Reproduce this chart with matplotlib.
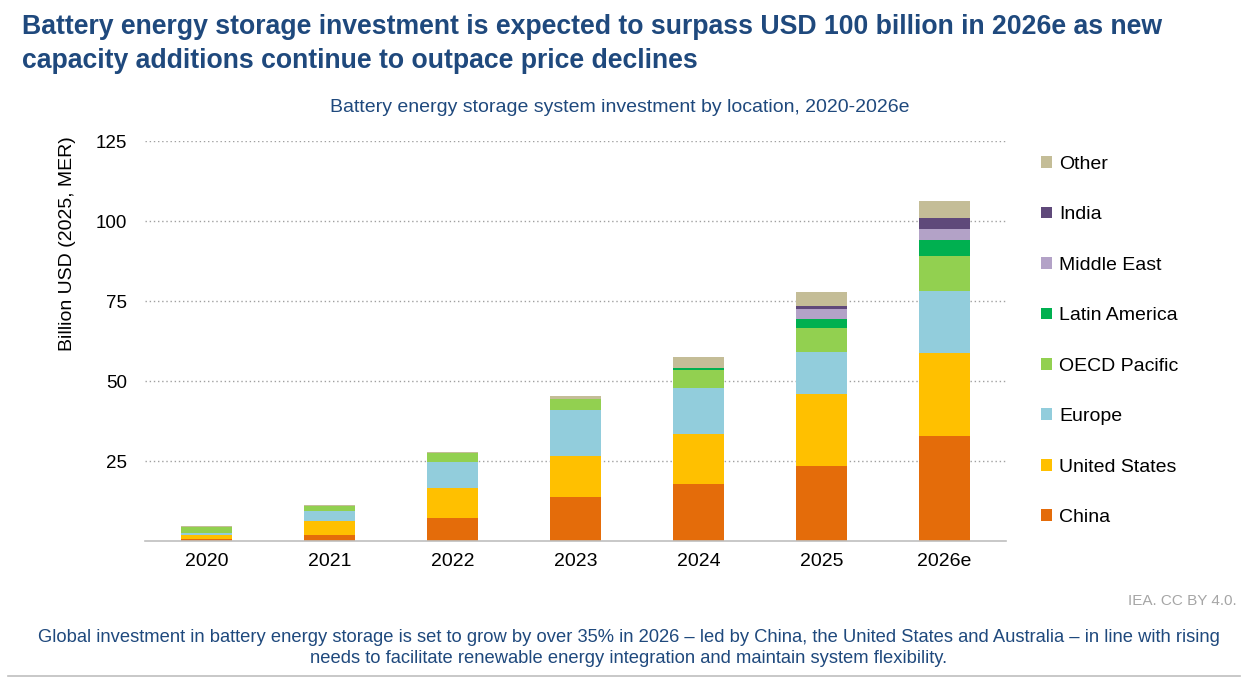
import matplotlib
matplotlib.use("Agg")
import matplotlib.pyplot as plt
from matplotlib.patches import Patch
from matplotlib.lines import Line2D
import numpy as np

plt.rcParams['font.family'] = ['Liberation Sans', 'DejaVu Sans']

years = ["2020", "2021", "2022", "2023", "2024", "2025", "2026e"]
regions = ["China", "United States", "Europe", "OECD Pacific", "Latin America",
           "Middle East", "India", "Other"]
china = [0.7, 2.0, 7.3, 13.9, 17.9, 23.4, 32.8]
united_states = [1.1, 4.3, 9.4, 12.7, 15.6, 22.4, 26.1]
europe = [0.6, 3.1, 8.0, 14.4, 14.2, 13.4, 19.1]
oecd_pacific = [2.1, 1.6, 2.8, 3.3, 5.8, 7.4, 11.0]
latin_america = [0.0, 0.0, 0.0, 0.1, 0.7, 2.7, 5.0]
middle_east = [0.0, 0.0, 0.0, 0.0, 0.0, 3.3, 3.5]
india = [0.0, 0.0, 0.0, 0.0, 0.0, 0.8, 3.4]
other = [0.2, 0.3, 0.3, 0.8, 3.2, 4.4, 5.2]
series = [china, united_states, europe, oecd_pacific, latin_america,
          middle_east, india, other]
colors = ["#E46C0A", "#FFC000", "#92CDDC", "#92D050", "#00B050",
          "#B3A2C7", "#5F497A", "#C4BD97"]

title_color = "#1F497D"

fig = plt.figure(figsize=(12.44, 6.8), dpi=100)
ax = fig.add_axes([145/1244, 1-541/680, 861/1244, 400/680])

x = np.arange(len(years))
bottom = np.zeros(len(years))
for vals, col, name in zip(series, colors, regions):
    v = np.array(vals)
    ax.bar(x, v, width=0.41, bottom=bottom, color=col, label=name, zorder=3,
           linewidth=0)
    bottom += v

ax.set_xlim(-0.5, len(years) - 0.5)
ax.set_ylim(0, 125)
ax.set_yticks([25, 50, 75, 100, 125])
ax.set_xticks(x)
ax.set_xticklabels(years)
ax.tick_params(axis='both', length=0, labelsize=14, colors='black')
ax.tick_params(axis='y', pad=13, labelsize=13.5)
ax.tick_params(axis='x', pad=9)
for s in ["top", "right", "left"]:
    ax.spines[s].set_visible(False)
ax.spines["bottom"].set_color("#BFBFBF")
ax.spines["bottom"].set_linewidth(1.2)
ax.spines["bottom"].set_zorder(4)
ax.yaxis.grid(True, linestyle=(0, (1, 2)), color="#A0A0A0", linewidth=1.0, zorder=0)
ax.set_axisbelow(True)

fig.text(67/1244, 1-244/680, "Billion USD (2025, MER)", rotation=90,
         ha='center', va='center', fontsize=14, color='black')

handles = [Patch(facecolor=c, edgecolor='none') for c in colors][::-1]
labels = regions[::-1]
leg = fig.legend(handles, labels, loc='upper left',
                 bbox_to_anchor=(1041/1244, 1-156/680), frameon=False,
                 fontsize=14, handlelength=0.55, handleheight=0.55,
                 handletextpad=0.4, labelspacing=1.72, borderaxespad=0,
                 borderpad=0)

fig.text(22/1244, 1-44/680,
         "Battery energy storage investment is expected to surpass USD 100 billion in 2026e as new\n"
         "capacity additions continue to outpace price declines",
         ha='left', va='center', fontsize=19.2, fontweight='bold', color=title_color,
         linespacing=1.36)

fig.text(620/1244, 1-108/680,
         "Battery energy storage system investment by location, 2020-2026e",
         ha='center', va='center', fontsize=14, color=title_color)

fig.text(1237/1244, 1-601/680, "IEA. CC BY 4.0.", ha='right', va='center',
         fontsize=11, color='#A6A6A6')

fig.text(629/1244, 1-648/680,
         "Global investment in battery energy storage is set to grow by over 35% in 2026 \u2013 led by China, the United States and Australia \u2013 in line with rising\n"
         "needs to facilitate renewable energy integration and maintain system flexibility.",
         ha='center', va='center', fontsize=13.2, color=title_color, linespacing=1.33)

fig.add_artist(Line2D([8/1244, 1240/1244], [1-676/680, 1-676/680],
                      color='#BFBFBF', linewidth=1.2))

fig.savefig("out.png", dpi=100, facecolor='white')
